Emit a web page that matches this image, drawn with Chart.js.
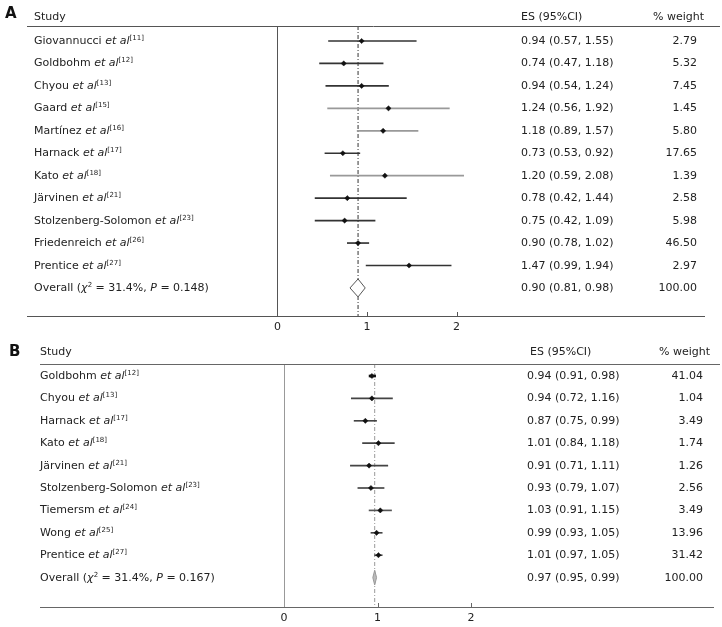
<!DOCTYPE html>
<html lang="en">
<head>
<meta charset="UTF-8" />
<title>Forest plots</title>
<script src="https://cdn.jsdelivr.net/npm/chart.js"></script>
<style>
  body { margin: 0; background: #fff; font-family: "DejaVu Sans", Verdana, sans-serif; color: #222; }
  #wrap { position: relative; width: 722px; height: 627px; overflow: hidden; }
  canvas { position: absolute; left: 0; }
  .t { position: absolute; font-size: 11px; line-height: 14px; white-space: nowrap; }
  .sup { font-size: 7px; position: relative; top: -4px; }
  .panel { position: absolute; font: bold 15px/15px "DejaVu Sans", Verdana, sans-serif; color: #111; }
</style>
</head>
<body>
<div id="wrap">
  <canvas id="chartA"></canvas>
  <canvas id="chartB"></canvas>
</div>

<script>
// panel A
const studiesA = ['Giovannucci', 'Goldbohm', 'Chyou', 'Gaard', 'Martínez', 'Harnack', 'Kato', 'Järvinen', 'Stolzenberg-Solomon', 'Friedenreich', 'Prentice'];
const refsA = [11, 12, 13, 15, 16, 17, 18, 21, 23, 26, 27];
const esA = [0.94, 0.74, 0.94, 1.24, 1.18, 0.73, 1.20, 0.78, 0.75, 0.90, 1.47];
const loA = [0.57, 0.47, 0.54, 0.56, 0.89, 0.53, 0.59, 0.42, 0.42, 0.78, 0.99];
const hiA = [1.55, 1.18, 1.24, 1.92, 1.57, 0.92, 2.08, 1.44, 1.09, 1.02, 1.94];
const weightA = [2.79, 5.32, 7.45, 1.45, 5.80, 17.65, 1.39, 2.58, 5.98, 46.50, 2.97];
const overallA = [0.90, 0.81, 0.98, 100.00];
const statsA = ['31.4%', '0.148'];

// panel B
const studiesB = ['Goldbohm', 'Chyou', 'Harnack', 'Kato', 'Järvinen', 'Stolzenberg-Solomon', 'Tiemersm', 'Wong', 'Prentice'];
const refsB = [12, 13, 17, 18, 21, 23, 24, 25, 27];
const esB = [0.94, 0.94, 0.87, 1.01, 0.91, 0.93, 1.03, 0.99, 1.01];
const loB = [0.91, 0.72, 0.75, 0.84, 0.71, 0.79, 0.91, 0.93, 0.97];
const hiB = [0.98, 1.16, 0.99, 1.18, 1.11, 1.07, 1.15, 1.05, 1.05];
const weightB = [41.04, 1.04, 3.49, 1.74, 1.26, 2.56, 3.49, 13.96, 31.42];
const overallB = [0.97, 0.95, 0.99, 100.00];
const statsB = ['31.4%', '0.167'];

const xTicks = [0, 1, 2];

const wrap = document.getElementById('wrap');

function addText(html, x, yc, right) {
  const d = document.createElement('div');
  d.className = 't';
  d.innerHTML = html;
  d.style.top = (yc - 7) + 'px';
  if (right) d.style.right = (722 - x) + 'px';
  else d.style.left = x + 'px';
  wrap.appendChild(d);
}

// header rule and the small tick marks above the axis
const extras = {
  id: 'extras',
  afterDraw(chart, args, o) {
    const { ctx, chartArea, scales: { x } } = chart;
    ctx.save();
    ctx.strokeStyle = o.color;
    ctx.lineWidth = 1;
    ctx.beginPath();
    ctx.moveTo(o.from, chartArea.top + 0.5);
    ctx.lineTo(o.to, chartArea.top + 0.5);
    xTicks.slice(1).forEach(v => {
      const px = Math.round(x.getPixelForValue(v)) + 0.5;
      ctx.moveTo(px, chartArea.bottom);
      ctx.lineTo(px, chartArea.bottom - 4);
    });
    ctx.stroke();
    ctx.restore();
  }
};

function forest(cfg) {
  const L = cfg.layout;
  const n = cfg.names.length;
  const canvas = document.getElementById(cfg.id);
  canvas.width = 722;
  canvas.height = L.height;
  canvas.style.top = L.top + 'px';

  const yMin = (L.areaTop - L.rowFirst) / L.rowStep;
  const yMax = (L.areaBottom - L.rowFirst) / L.rowStep;
  const xMin = (L.padLeft - L.zero) / L.unit;
  const xMax = (722 - L.padRight - L.zero) / L.unit;
  const rows = cfg.names.map((_, i) => i);

  const widths = [...new Set(cfg.ciWidth)];
  const ciSets = widths.map(w => {
    const idx = rows.filter(i => cfg.ciWidth[i] === w);
    return {
      type: 'bar', indexAxis: 'y', grouped: false, barThickness: w, borderWidth: 0,
      data: idx.map(i => ({ y: i, x: [cfg.lo[i], cfg.hi[i]] })),
      backgroundColor: idx.map(i => cfg.ciColor[i])
    };
  });

  const [oEs, oLo, oHi, oW] = cfg.overall;
  const h = cfg.diamondHalf;

  const chart = new Chart(canvas, {
    type: 'scatter',
    data: {
      datasets: [
        {
          type: 'scatter',
          data: rows.map(i => ({ x: cfg.es[i], y: i })),
          pointStyle: 'rectRot', pointRadius: 2.6, pointHoverRadius: 2.6,
          backgroundColor: '#111', borderColor: '#111', borderWidth: 0.5
        },
        {
          type: 'line',
          data: [{ x: oLo, y: n }, { x: oEs, y: n - h }, { x: oHi, y: n }, { x: oEs, y: n + h }, { x: oLo, y: n }],
          borderColor: cfg.diamondStroke, backgroundColor: cfg.diamondFill,
          borderWidth: 1, fill: 'shape', pointRadius: 0, tension: 0
        },
        ...ciSets,
        {
          type: 'line',
          data: [{ x: oEs, y: yMin }, { x: oEs, y: yMax }],
          borderColor: cfg.refColor, borderWidth: 1, borderDash: [4, 2, 1, 2],
          pointRadius: 0, fill: false
        }
      ]
    },
    options: {
      responsive: false,
      animation: false,
      events: [],
      layout: { autoPadding: false, padding: { top: L.areaTop, left: L.padLeft, right: L.padRight, bottom: 0 } },
      plugins: {
        legend: { display: false },
        tooltip: { enabled: false },
        extras: { color: cfg.ruleColor, from: L.padLeft, to: 720 }
      },
      scales: {
        x: {
          type: 'linear', min: xMin, max: xMax,
          afterBuildTicks: s => { s.ticks = xTicks.map(v => ({ value: v })); },
          afterFit: s => { s.height = L.height - L.areaBottom; },
          ticks: { font: { family: 'DejaVu Sans', size: 11 }, color: '#222', padding: 5 },
          grid: {
            drawTicks: false, lineWidth: 1,
            color: c => (c.tick && c.tick.value === 0) ? cfg.zeroColor : 'rgba(0,0,0,0)'
          },
          border: { display: true, color: cfg.ruleColor, width: 1 }
        },
        y: { type: 'linear', display: false, min: yMin, max: yMax, reverse: true, offset: false }
      }
    },
    plugins: [extras]
  });

  // text columns, placed on the rows of the y scale
  const rowY = i => L.top + chart.scales.y.getPixelForValue(i);
  const f = v => v.toFixed(2);

  const letter = document.createElement('div');
  letter.className = 'panel';
  letter.textContent = cfg.letter;
  letter.style.left = L.letterX + 'px';
  letter.style.top = L.letterY + 'px';
  wrap.appendChild(letter);

  addText('Study', L.studyX, L.headerY);
  addText('ES (95%CI)', L.esHeadX, L.headerY);
  addText('% weight', L.wHeadRight, L.headerY, true);

  rows.forEach(i => {
    addText(cfg.names[i] + ' <i>et al</i><span class="sup">[' + cfg.refs[i] + ']</span>', L.studyX, rowY(i));
    addText(f(cfg.es[i]) + ' (' + f(cfg.lo[i]) + ', ' + f(cfg.hi[i]) + ')', L.esX, rowY(i));
    addText(f(cfg.weight[i]), L.wRight, rowY(i), true);
  });
  addText('Overall (<i>χ</i><span class="sup">2</span> = ' + cfg.stats[0] + ', <i>P</i> = ' + cfg.stats[1] + ')', L.studyX, rowY(n));
  addText(f(oEs) + ' (' + f(oLo) + ', ' + f(oHi) + ')', L.esX, rowY(n));
  addText(f(oW), L.wRight, rowY(n), true);
}

forest({
  id: 'chartA', letter: 'A',
  names: studiesA, refs: refsA, es: esA, lo: loA, hi: hiA, weight: weightA,
  overall: overallA, stats: statsA,
  ciColor: ['#333', '#333', '#333', '#999', '#999', '#333', '#999', '#333', '#333', '#333', '#333'],
  ciWidth: [1, 1, 1, 1, 1, 1, 1, 1, 1, 1, 1],
  diamondFill: '#fff', diamondStroke: '#555', diamondHalf: 0.4,
  refColor: '#333', zeroColor: '#555', ruleColor: '#555',
  layout: {
    top: 0, height: 336, areaTop: 26, areaBottom: 316,
    padLeft: 27, padRight: 18, zero: 277.5, unit: 89.5,
    rowFirst: 41, rowStep: 22.45, headerY: 16.5,
    studyX: 34, esX: 521, esHeadX: 521, wRight: 697, wHeadRight: 704,
    letterX: 5, letterY: 6
  }
});

forest({
  id: 'chartB', letter: 'B',
  names: studiesB, refs: refsB, es: esB, lo: loB, hi: hiB, weight: weightB,
  overall: overallB, stats: statsB,
  ciColor: ['#111', '#444', '#444', '#444', '#444', '#444', '#555', '#444', '#444'],
  ciWidth: [2, 1, 1, 1, 1, 1, 1, 1, 1],
  diamondFill: '#bbb', diamondStroke: '#999', diamondHalf: 0.33,
  refColor: '#999', zeroColor: '#999', ruleColor: '#666',
  layout: {
    top: 340, height: 287, areaTop: 24, areaBottom: 267,
    padLeft: 40, padRight: 9, zero: 284, unit: 93.5,
    rowFirst: 36, rowStep: 22.4, headerY: 11.5 + 340,
    studyX: 40, esX: 527, esHeadX: 530, wRight: 703, wHeadRight: 710,
    letterX: 9, letterY: 344
  }
});
</script>
</body>
</html>
